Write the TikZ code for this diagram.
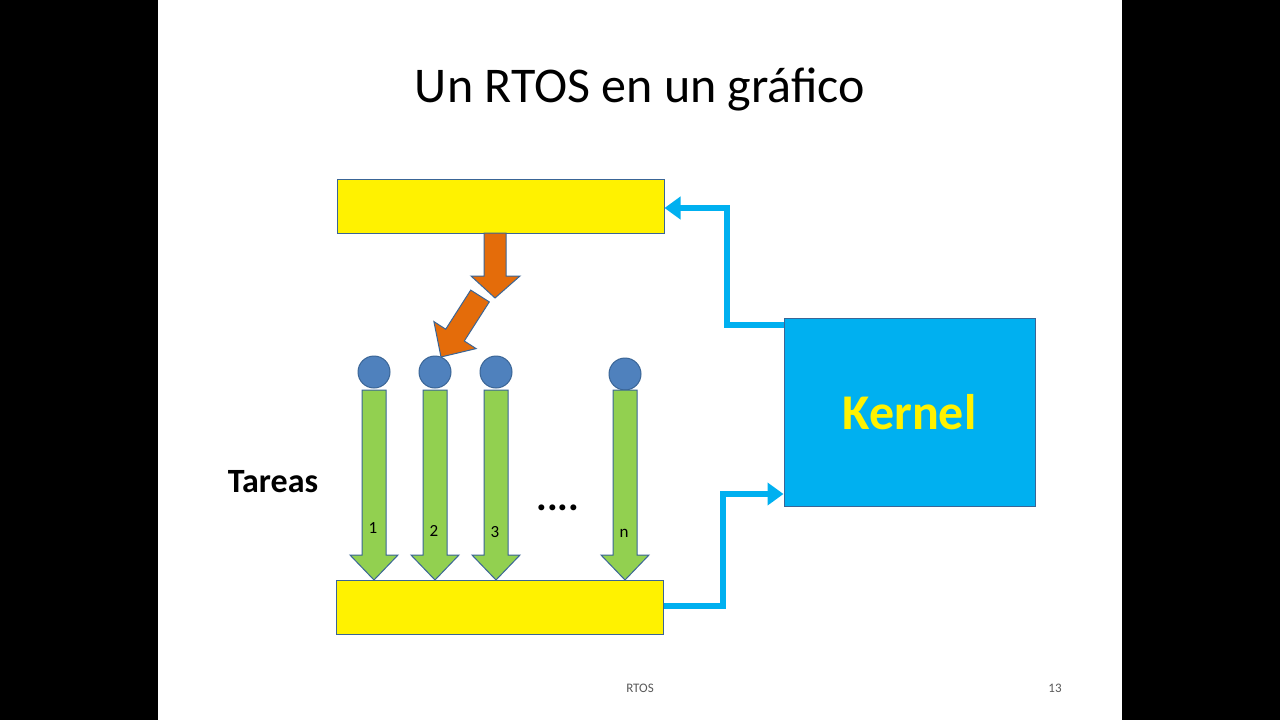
\documentclass[tikz,border=0pt]{standalone}
\usepackage{fontspec}
\setmainfont{Carlito}
\usetikzlibrary{arrows.meta}
\definecolor{kblue}{HTML}{00B0F0}
\definecolor{cfill}{HTML}{4F81BD}
\definecolor{cline}{HTML}{3A6596}
\definecolor{gfill}{HTML}{92D050}
\definecolor{ofill}{HTML}{E46C0A}
\tikzset{
  bar/.style={draw=cline,line width=1pt,fill=yellow,minimum width=327pt,minimum height=54pt,inner sep=0pt},
  dotc/.style={circle,draw=cline,line width=1pt,fill=cfill,minimum size=32pt,inner sep=0pt},
  garrow/.style={draw=cline,line width=1pt,fill=gfill},
  oarrow/.style={draw=cline,line width=1pt,fill=ofill},
  conn/.style={kblue,line width=6pt,-{Triangle[length=16pt,width=22pt]}},
  lbl/.style={font=\fontsize{17}{20}\selectfont},
}
\begin{document}
\begin{tikzpicture}[x=1pt,y=-1pt]
\useasboundingbox (0,0) rectangle (1280,720);
\fill[black] (0,0) rectangle (158,720);
\fill[black] (1122,0) rectangle (1280,720);
\fill[white] (158,0) rectangle (1122,720);
\node (title) at (640,90) {\fontsize{50}{60}\selectfont Un RTOS en un gráfico};
\node[bar] (top) at (500.5,206) {};
\node[bar] (bot) at (499.5,607) {};
\node[draw=cline,line width=1pt,fill=kblue,minimum width=251pt,minimum height=188pt,inner sep=0pt,text=yellow,font=\bfseries\fontsize{50}{60}\selectfont] (kernel) at (909.5,412) {Kernel};
\node[font=\bfseries\fontsize{34}{40}\selectfont] (tareas) at (273,482) {Tareas};
% orange arrows
\draw[oarrow] (484,233) -- (484,276) -- (471,276) -- (495,298) -- (520,276) -- (506,276) -- (506,233) -- cycle;
\draw[oarrow] (489.3,301.9) -- (464.3,341.0) -- (476.1,348.6) -- (441,357) -- (433.9,321.6) -- (445.7,329.2) -- (470.7,290.1) -- cycle;
% circles and green arrows
\foreach \n/\x/\y/\t/\ty in {a/374/372/1/528, b/435/372/2/531, c/496/372/3/532, d/625/374/n/533}{
  \node[dotc] (c\n) at (\x,\y) {};
  \draw[garrow] (\x-12,390) -- (\x+12,390) -- (\x+12,555) -- (\x+24,555) -- (\x,580) -- (\x-24,555) -- (\x-12,555) -- cycle;
  \node[lbl] (l\n) at (\x-1,\ty) {\t};
}
\node[font=\bfseries\fontsize{40}{40}\selectfont] (dots) at (558,508) {....};
% connectors
\draw[conn] (kernel.west |- 0,325) -- (727,325) -- (727,208) -- (top.east |- 0,208);
\draw[conn] (bot.east |- 0,606) -- (723,606) -- (723,494) -- (kernel.west |- 0,494);
\node[text=gray!70!black,font=\fontsize{13}{15}\selectfont] (ft) at (640,688) {RTOS};
\node[text=gray!70!black,font=\fontsize{13}{15}\selectfont] (pg) at (1055,688) {13};
\end{tikzpicture}
\end{document}
